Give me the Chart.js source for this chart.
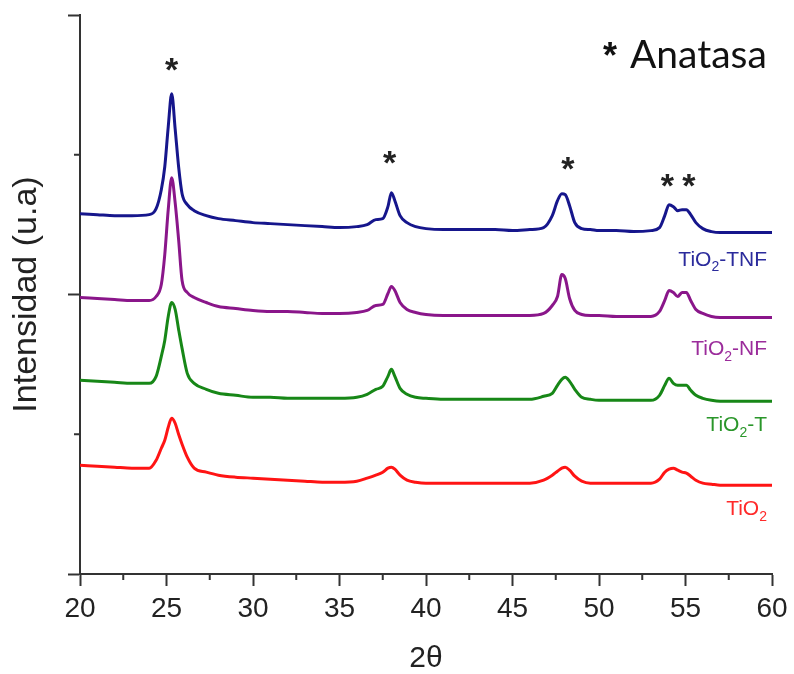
<!DOCTYPE html>
<html>
<head>
<meta charset="utf-8">
<script src="https://cdn.jsdelivr.net/npm/chart.js@4.4.0/dist/chart.umd.min.js"></script>
<style>
  body { margin: 0; background: #fff; }
  #wrap { width: 794px; height: 674px; }
</style>
</head>
<body>
<div id="wrap"><canvas id="xrd"></canvas></div>
<script>
// 2θ angles (degrees), shared by all patterns
const angles = [20, 21, 22, 23, 24,
  24.4, 24.7, 24.9, 25.1, 25.3, 25.5, 25.7, 25.9, 26.2, 26.6,
  27.3,
  28, 29, 30, 31, 32, 33, 34, 35, 36,
  36.6, 37.1, 37.5, 37.8, 38.0, 38.2, 38.5, 38.9, 39.4,
  40, 41, 42, 43, 44, 45, 46,
  46.8, 47.3, 47.6, 47.85, 48.05, 48.3, 48.6, 49.0, 49.5,
  50, 51, 52, 53,
  53.5, 53.8, 54.05, 54.3, 54.55, 54.8, 55.05, 55.3, 55.6, 56.0, 56.5,
  57, 58, 59, 60];

// intensities (a.u., patterns already offset)
const tio2TNF = [361, 360, 359, 359, 360,
  366, 385, 408, 448, 481, 446, 408, 381, 370, 364,
  359,
  356, 354, 352, 351, 350, 349, 348, 347, 348,
  350, 355, 356, 368, 382, 374, 359, 352, 348,
  346, 345, 345, 345, 345, 344, 345,
  347, 359, 374, 381, 380, 369, 352, 346, 345,
  344, 344, 343, 344,
  347, 359, 370, 368, 364, 365, 365, 360, 352, 346, 343,
  342, 342, 342, 342];
const tio2NF = [277, 276, 275, 274, 274,
  278, 290, 320, 365, 397, 372, 335, 294, 282, 277,
  272,
  268, 266, 264, 263, 263, 262, 261, 261, 262,
  264, 269, 270, 281, 288, 284, 272, 265, 262,
  260, 259, 259, 259, 259, 259, 259,
  261, 269, 278, 300, 296, 276, 264, 260, 259,
  259, 258, 258, 258,
  263, 274, 284, 282, 278, 282, 282, 274, 265, 261, 258,
  257, 257, 257, 257];
const tio2T = [194, 193, 192, 191, 191,
  198, 218, 234, 258, 272, 265, 245, 226, 201, 191,
  185,
  181, 179, 177, 177, 176, 176, 176, 176, 177,
  180, 185, 188, 198, 205, 198, 186, 180, 177,
  176, 175, 175, 175, 175, 175, 175,
  178, 181, 189, 195, 197, 193, 185, 177, 175,
  174, 174, 174, 174,
  179, 189, 196, 191, 189, 189, 189, 184, 179, 176, 174,
  173, 173, 173, 173];
const tio2 = [109, 108, 107, 106, 106,
  114, 126, 134, 147, 156, 151, 140, 130, 117, 106,
  102,
  99, 97, 96, 95, 94, 93, 92, 92, 93,
  96, 99, 102, 106, 107, 105, 99, 94, 92,
  91, 91, 91, 91, 91, 91, 91,
  94, 99, 103, 106, 107, 104, 98, 93, 91,
  91, 91, 91, 91,
  95, 102, 105, 106, 104, 102, 101, 98, 94, 91, 90,
  89, 89, 89, 89];

const xMinorTicks = [22.5, 27.5, 32.5, 37.5, 42.5, 47.5, 52.5, 57.5];
const yMinorTicks = [140, 420];
// anatase reflections marked with *
const anatasePeaks = [25.3, 37.9, 48.2, 53.95, 55.2];
const anataseMarkY = [510, 417, 411, 394, 394];

const FONT = '"Liberation Sans", Arial, sans-serif';

const series = [
  { data: tio2TNF, color: '#16168c', name: ['TiO', '2', '-TNF'], labelColor: '#2b2b9c', labelY: 309 },
  { data: tio2NF, color: '#8a168a', name: ['TiO', '2', '-NF'], labelColor: '#9b2c9b', labelY: 219 },
  { data: tio2T, color: '#178717', name: ['TiO', '2', '-T'], labelColor: '#2a962a', labelY: 143 },
  { data: tio2, color: '#ff1414', name: ['TiO', '2', ''], labelColor: '#ff2a2a', labelY: 59 }
];

function drawFormula(ctx, parts, xRight, yBase, size, color) {
  const sub = Math.round(size * 0.68);
  ctx.font = size + 'px ' + FONT;
  const w0 = ctx.measureText(parts[0]).width;
  const w2 = ctx.measureText(parts[2]).width;
  ctx.font = sub + 'px ' + FONT;
  const w1 = ctx.measureText(parts[1]).width;
  let x = xRight - (w0 + w1 + w2);
  ctx.fillStyle = color;
  ctx.textAlign = 'left';
  ctx.textBaseline = 'alphabetic';
  ctx.font = size + 'px ' + FONT;
  ctx.fillText(parts[0], x, yBase);
  x += w0;
  ctx.font = sub + 'px ' + FONT;
  ctx.fillText(parts[1], x, yBase + size * 0.28);
  x += w1;
  ctx.font = size + 'px ' + FONT;
  ctx.fillText(parts[2], x, yBase);
}

function drawStar(ctx, cx, cy, size) {
  ctx.font = 'bold ' + size + 'px ' + FONT;
  ctx.textAlign = 'center';
  ctx.textBaseline = 'alphabetic';
  const m = ctx.measureText('*');
  ctx.fillText('*', cx, cy + (m.actualBoundingBoxAscent - m.actualBoundingBoxDescent) / 2);
}

const decor = {
  id: 'decor',
  afterDraw(chart) {
    const ctx = chart.ctx;
    const xs = chart.scales.x, ys = chart.scales.y;
    ctx.save();
    // minor ticks
    ctx.strokeStyle = '#333';
    ctx.lineWidth = 2;
    ctx.beginPath();
    xMinorTicks.forEach(v => {
      const px = xs.getPixelForValue(v);
      ctx.moveTo(px, ys.bottom);
      ctx.lineTo(px, ys.bottom + 6);
    });
    yMinorTicks.forEach(v => {
      const py = ys.getPixelForValue(v);
      ctx.moveTo(xs.left, py);
      ctx.lineTo(xs.left - 6, py);
    });
    ctx.stroke();

    // peak markers
    ctx.fillStyle = '#222';
    anatasePeaks.forEach((a, i) => {
      drawStar(ctx, xs.getPixelForValue(a), ys.getPixelForValue(anataseMarkY[i]), 34);
    });

    // series names
    series.forEach(s => {
      drawFormula(ctx, s.name, xs.getPixelForValue(59.71), ys.getPixelForValue(s.labelY), 21, s.labelColor);
    });

    // key
    ctx.fillStyle = '#111';
    drawStar(ctx, xs.getPixelForValue(50.64), ys.getPixelForValue(526), 36);
    ctx.font = '39px Lato, "Open Sans", sans-serif';
    ctx.textAlign = 'left';
    ctx.textBaseline = 'alphabetic';
    ctx.fillText('Anatasa', xs.getPixelForValue(51.79), ys.getPixelForValue(507));
    ctx.restore();
  }
};

new Chart(document.getElementById('xrd'), {
  type: 'line',
  data: {
    datasets: series.map(s => ({
      data: angles.map((a, i) => ({ x: a, y: s.data[i] })),
      borderColor: s.color,
      borderWidth: 3,
      pointRadius: 0,
      cubicInterpolationMode: 'monotone',
      fill: false
    }))
  },
  options: {
    responsive: true,
    maintainAspectRatio: false,
    animation: false,
    layout: { padding: { top: 15, right: 22, left: 0, bottom: 0 } },
    plugins: { legend: { display: false }, tooltip: { enabled: false } },
    scales: {
      x: {
        type: 'linear',
        min: 20,
        max: 60,
        afterFit(scale) { scale.height = 100; },
        ticks: { stepSize: 5, padding: 6, color: '#222', font: { family: FONT, size: 28 } },
        grid: { drawOnChartArea: false, drawTicks: true, tickLength: 12, tickWidth: 2, tickColor: '#333' },
        border: { display: true, color: '#333', width: 2 },
        title: { display: true, text: '2θ', color: '#222', font: { family: FONT, size: 30, lineHeight: 1 }, padding: { top: 0, bottom: 0 } }
      },
      y: {
        min: 0,
        max: 560,
        afterFit(scale) { scale.width = 80; },
        ticks: { stepSize: 280, display: false },
        grid: { drawOnChartArea: false, drawTicks: true, tickLength: 12, tickWidth: 2, tickColor: '#333' },
        border: { display: true, color: '#333', width: 2 },
        title: { display: true, text: 'Intensidad (u.a)', color: '#222', font: { family: FONT, size: 34 }, padding: { top: 6, bottom: 0 } }
      }
    }
  },
  plugins: [decor]
});
</script>
</body>
</html>
